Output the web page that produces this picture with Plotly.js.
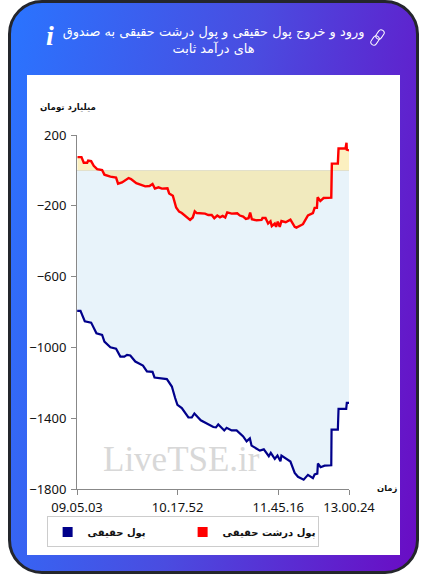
<!DOCTYPE html>
<html><head><meta charset="utf-8">
<script src="https://cdn.plot.ly/plotly-3.0.1.min.js"></script>
<style>
html,body{margin:0;padding:0;background:#fff;width:427px;height:574px;overflow:hidden}
#frame{position:absolute;left:8px;top:0;width:405px;height:568px;border:3px solid #24262c;border-radius:34px;background:linear-gradient(100deg,#2a74ff 0%,#4a4ce0 50%,#6a0cc4 100%)}
#panel{position:absolute;left:27px;top:75px;width:373px;height:480px;background:#fff}
#chart{position:absolute;left:0;top:0;width:427px;height:574px}
#link{position:absolute;left:369px;top:28px}
</style></head><body>
<div id="frame"></div><div id="panel"></div>
<svg id="link" width="17" height="19" viewBox="0 0 17 19" fill="none" stroke="#fff" stroke-width="1">
<rect x="8" y="1.5" width="6" height="10" rx="3" transform="rotate(35 11 6.5)"/>
<rect x="3" y="7.5" width="6" height="10" rx="3" transform="rotate(35 6 12.5)"/>
</svg>
<div id="chart"></div>
<script>
const seriesNames = ['پول حقیقی', 'پول درشت حقیقی'];
const tickIndex = [0, 101, 202, 273];
const tickLabels = ['09.05.03', '10.17.52', '11.45.16', '13.00.24'];
const yTicks = [200, -200, -600, -1000, -1400, -1800];

const redIndex = [0.5,4.5,6.8,10.2,11.2,14.2,16.8,20.2,25.2,27.5,33.5,39.2,41.2,45.2,51.8,54.2,59.5,68.5,72.8,75.8,78.2,81.8,85.2,90.8,92.5,96.2,99.5,102.5,105.2,110.2,113.5,116.2,118.2,120.2,123.5,128.5,131.8,135.2,137.8,140.8,143.5,146.2,148.8,150.8,155.2,160.8,163.5,166.8,169.5,172.2,173.8,175.5,180.2,185.2,186.2,189.2,191.8,194.2,195.5,198.5,199.8,201.5,203.5,205.2,209.5,214.2,218.5,220.2,226.8,231.8,236.8,238.5,240.8,241.5,244.2,247.5,255.2,255.8,261.8,262.5,269.5,270.5,270.8,273];
const redValues = [75,75,43,43,55,52,26,7,2,-24,-35,-41,-75,-68,-43,-49,-72,-90,-88,-77,-103,-96,-103,-101,-130,-143,-210,-233,-241,-266,-280,-266,-231,-241,-241,-244,-252,-252,-270,-255,-265,-257,-266,-237,-244,-242,-255,-261,-274,-270,-238,-276,-282,-280,-269,-269,-300,-287,-315,-300,-319,-289,-319,-286,-293,-278,-319,-323,-304,-254,-241,-212,-212,-152,-173,-156,-154,38,38,124,124,156,117,113];

const blueIndex = [0.2,3.5,7.8,14.2,19.5,25.2,27.5,33.5,39.2,43.5,47.5,50.2,53.5,58.5,66.2,70.2,75.8,77.8,90.2,95.2,98.5,100.8,105.2,111.8,115.2,117.8,124.2,128.5,136.8,139.5,141.8,147.8,150.2,155.2,160.2,166.8,170.2,173.5,175.2,183.5,187.5,192.5,194.5,198.5,201.2,204.2,205.2,214.2,218.5,221.8,227.5,231.8,236.8,238.5,241.2,241.8,244.5,248.5,255.2,255.5,261.8,262.5,270.2,270.8,273];
const blueValues = [-794,-794,-852,-860,-920,-930,-967,-999,-1007,-1052,-1052,-1042,-1046,-1080,-1103,-1136,-1138,-1170,-1179,-1221,-1286,-1324,-1343,-1396,-1396,-1373,-1412,-1424,-1450,-1452,-1435,-1469,-1454,-1469,-1469,-1503,-1531,-1514,-1555,-1583,-1576,-1615,-1596,-1630,-1611,-1643,-1611,-1645,-1709,-1731,-1747,-1720,-1739,-1718,-1713,-1656,-1677,-1668,-1666,-1465,-1465,-1347,-1347,-1313,-1313];

const traces = [
  {x: blueIndex, y: blueValues, type:'scatter', mode:'lines', fill:'tozeroy', fillcolor:'#e8f3fa',
   line:{color:'#00008b', width:2.2}, showlegend:false, hoverinfo:'skip'},
  {x: redIndex, y: redValues, type:'scatter', mode:'lines', fill:'tozeroy', fillcolor:'rgba(250,225,130,0.5)',
   line:{color:'#ff0000', width:2.4}, showlegend:false, hoverinfo:'skip'},
  {x:[null], y:[null], type:'scatter', mode:'markers', name:seriesNames[0],
   marker:{symbol:'square', size:10, color:'#00008b'}},
  {x:[null], y:[null], type:'scatter', mode:'markers', name:seriesNames[1],
   marker:{symbol:'square', size:10, color:'#ff0000'}}
];
const arabic = '"DejaVu Sans","Noto Sans",sans-serif';
const layout = {
  width:427, height:574, autosize:false,
  margin:{l:76.5, r:77.5, t:134.5, b:84.5, pad:0},
  paper_bgcolor:'rgba(0,0,0,0)', plot_bgcolor:'rgba(0,0,0,0)',
  title:{text:'ورود و خروج پول حقیقی و پول درشت حقیقی به صندوق<br>های درآمد ثابت',
    font:{family:arabic, size:12.9, color:'#fff', lineheight:1.1}, x:0.5, xanchor:'center', y:0.937, yanchor:'middle'},
  xaxis:{range:[0,273], tickmode:'array', tickvals:tickIndex, ticktext:tickLabels, showgrid:false, zeroline:false,
    showline:true, linecolor:'#888', linewidth:1, ticks:'outside', ticklen:5, tickcolor:'#888', ticklabelstandoff:1,
    tickangle:0, tickfont:{family:'"Noto Sans",sans-serif', size:13, color:'#111'}},
  yaxis:{range:[-1800,200], tickmode:'array', tickvals:yTicks, showgrid:false, zeroline:true, zerolinecolor:'#cfcfcf', zerolinewidth:1,
    showline:true, linecolor:'#888', linewidth:1, ticks:'outside', ticklen:5, tickcolor:'#888', ticklabelstandoff:2,
    tickfont:{family:'"Noto Sans",sans-serif', size:13, color:'#111'}},
  legend:{orientation:'h', x:-0.1117, y:-0.0775, xanchor:'left', yanchor:'top', bordercolor:'#ccc', borderwidth:1,
    bgcolor:'#fff', entrywidth:90, entrywidthmode:'pixels', traceorder:'normal',
    font:{family:arabic, size:10, color:'#111', weight:700}},
  annotations:[
    {text:'میلیارد تومان', xref:'paper', yref:'paper', x:-0.145, y:1.077, xanchor:'left', yanchor:'middle', showarrow:false,
     font:{family:arabic, size:8.6, color:'#111', weight:700}},
    {text:'زمان', xref:'paper', yref:'paper', x:1.095, y:0.002, xanchor:'left', yanchor:'middle', showarrow:false,
     font:{family:arabic, size:8.4, color:'#111', weight:700}},
    {text:'LiveTSE.ir', xref:'paper', yref:'paper', x:0.386, y:0.082, xanchor:'center', yanchor:'middle', showarrow:false,
     font:{family:'"Liberation Serif",serif', size:35, color:'#d8d8d8'}},
    {text:'<i><b>i</b></i>', xref:'paper', yref:'paper', x:-0.099, y:1.282, xanchor:'center', yanchor:'middle', showarrow:false,
     font:{family:'"Liberation Serif",serif', size:28, color:'#fff'}}
  ]
};
Plotly.newPlot('chart', traces, layout, {displayModeBar:false, staticPlot:true});
</script></body></html>
